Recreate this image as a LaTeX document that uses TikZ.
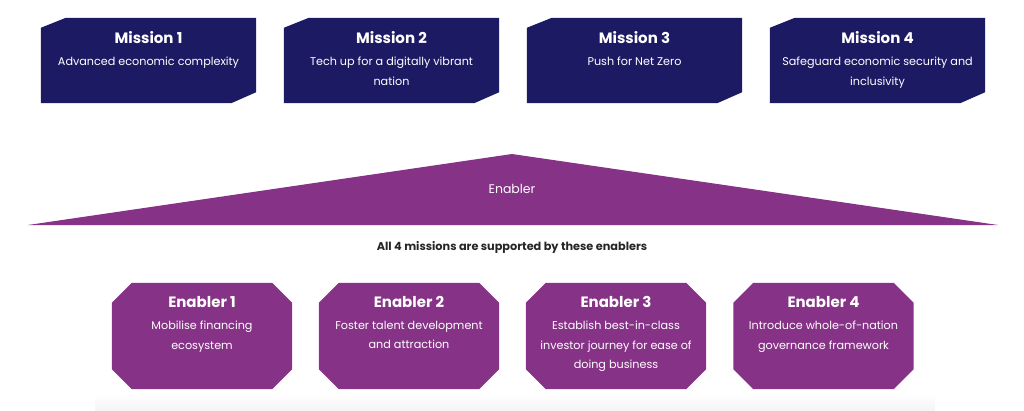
\documentclass[tikz,border=0pt]{standalone}
\usepackage{fontspec}
\setmainfont{Poppins}
\usetikzlibrary{calc}
\definecolor{navy}{HTML}{1D1A64}
\definecolor{plum}{HTML}{863286}
\begin{document}
\begin{tikzpicture}[x=1pt,y=-1pt,
  missionbox/.style={rectangle, draw=none, minimum width=215pt, minimum height=85pt, inner sep=0pt},
  enablerbox/.style={rectangle, draw=none, minimum width=180pt, minimum height=106pt, inner sep=0pt},
  boxtitle/.style={text=white, font=\fontsize{15}{17}\selectfont\bfseries, inner sep=0pt},
  boxtext/.style={text=white, font=\fontsize{11.2}{19.5}\selectfont, align=center, inner sep=0pt, anchor=north}]
\useasboundingbox (0,0) rectangle (1024,410);
% soft shadow under enablers
\shade[top color=white, bottom color=black!4] (95,394) rectangle (935,410);
% missions
\foreach \i/\cx/\txt in {1/148.5/{Advanced economic complexity},
                         2/391.5/{Tech up for a digitally vibrant\\nation},
                         3/634.5/{Push for Net Zero},
                         4/877.5/{Safeguard economic security and\\inclusivity}}{
  \node[missionbox] (m\i) at (\cx,60.5) {};
  \fill[navy] ($(m\i.north west)+(0,10)$) -- ($(m\i.north west)+(25,0)$) -- (m\i.north east)
     -- ($(m\i.south east)+(0,-11)$) -- ($(m\i.south east)+(-25,0)$) -- (m\i.south west) -- cycle;
  \node[boxtitle] (mt\i) at (\cx,38) {Mission \i};
  \node[boxtext] (md\i) at (\cx,57) {\txt};
}
% enabler triangle
\coordinate (tl) at (28,225);
\coordinate (tt) at (512,154);
\coordinate (tr) at (998,225);
\fill[plum] (tl) -- (tt) -- (tr) -- cycle;
\node[text=white, font=\fontsize{12.5}{14}\selectfont, inner sep=0pt] (en) at (512,189) {Enabler};
\node[text=black!85, font=\fontsize{11.3}{13}\selectfont\bfseries, inner sep=0pt] (sup) at (512,247)
  {All 4 missions are supported by these enablers};
% enablers
\foreach \i/\cx/\txt in {1/202/{Mobilise financing\\ecosystem},
                         2/409/{Foster talent development\\and attraction},
                         3/616/{Establish best-in-class\\investor journey for ease of\\doing business},
                         4/823.5/{Introduce whole-of-nation\\governance framework}}{
  \node[enablerbox] (e\i) at (\cx,336) {};
  \fill[plum] ($(e\i.north west)+(20,0)$) -- ($(e\i.north east)+(-20,0)$) -- ($(e\i.north east)+(0,20)$)
     -- ($(e\i.south east)+(0,-20)$) -- ($(e\i.south east)+(-20,0)$) -- ($(e\i.south west)+(20,0)$)
     -- ($(e\i.south west)+(0,-20)$) -- ($(e\i.north west)+(0,20)$) -- cycle;
  \node[boxtitle] (et\i) at (\cx,302) {Enabler \i};
  \node[boxtext] (ed\i) at (\cx,321) {\txt};
}
\end{tikzpicture}
\end{document}
